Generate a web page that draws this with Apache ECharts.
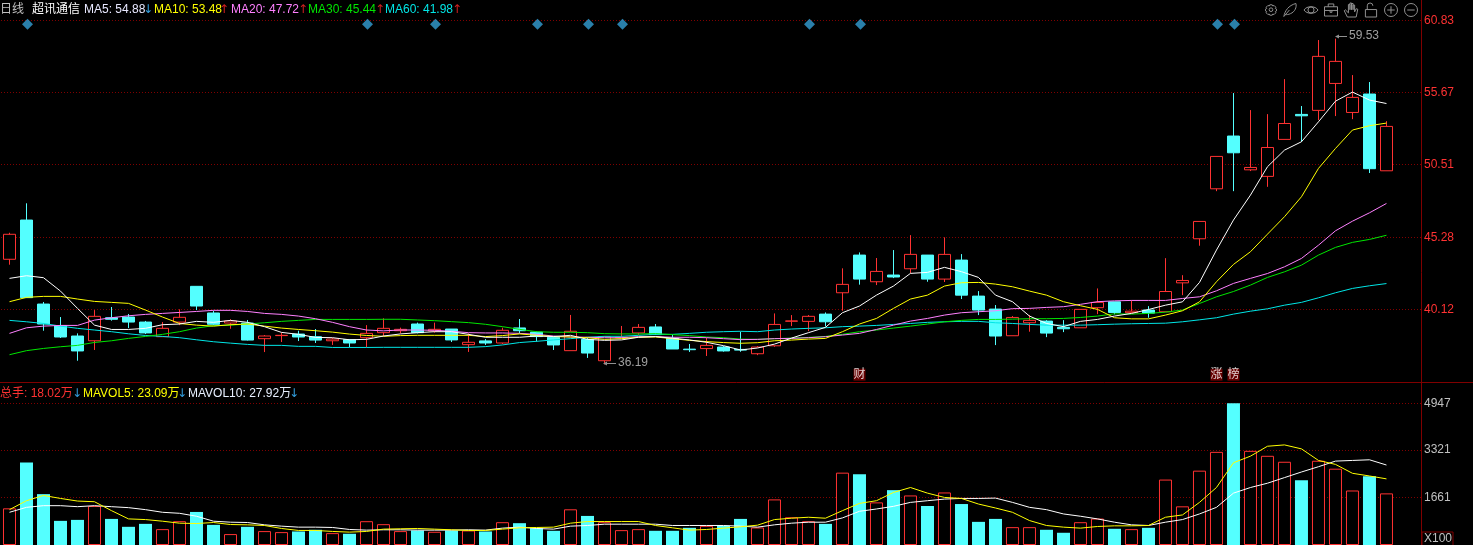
<!DOCTYPE html>
<html>
<head>
<meta charset="utf-8">
<title>超讯通信 日线</title>
<script src="https://cdn.jsdelivr.net/npm/echarts@6/dist/echarts.min.js"></script>
<style>
html, body { margin: 0; padding: 0; background: #000; overflow: hidden; }
#main { width: 1473px; height: 545px; }
</style>
</head>
<body>
<div id="main"></div>
<script>
var opens = [43.72,46.53,40.51,38.96,38.22,37.88,39.53,39.58,39.22,38.17,
  39.22,41.78,39.87,39.15,39.15,38.03,38.25,38.36,38.17,37.88,
  37.96,38.1,38.46,38.6,39.08,38.58,38.72,37.6,37.87,37.72,
  38.8,38.5,38.13,37.17,37.98,36.45,38.1,38.44,38.87,38.06,
  37.28,37.32,37.43,37.26,36.95,37.52,39.28,39.27,39.79,41.32,
  44.02,42.11,42.59,43.04,44.02,42.3,43.66,41.08,40.15,38.24,
  39.17,39.29,38.84,38.81,40.25,40.67,39.89,40.08,39.96,42.03,
  45.19,48.77,52.55,50.13,49.66,52.31,54.1,54.39,56.32,54.24,
  55.56,50.06];
var closes = [45.51,40.97,39.08,38.15,37.15,39.63,39.42,39.22,38.44,38.77,
  39.56,40.37,39.06,39.3,37.93,38.22,38.27,38.15,37.93,38.0,
  37.72,38.41,38.77,38.7,38.46,38.7,37.94,37.77,37.72,38.63,
  38.6,38.18,37.58,38.56,37.0,38.18,38.13,38.84,38.32,37.29,
  37.24,37.55,37.15,37.21,37.43,39.05,39.3,39.63,39.24,41.92,
  42.3,42.85,42.45,44.07,42.3,44.07,41.15,40.08,38.22,39.55,
  39.34,38.43,38.74,40.13,40.63,39.91,40.0,39.86,41.41,42.2,
  46.43,51.09,51.35,50.3,51.73,53.45,54.0,58.26,57.9,55.32,
  50.21,53.24];
var lows = [43.33,40.97,38.6,38.08,36.45,37.22,39.32,38.79,38.36,38.17,
  39.0,40.08,38.99,38.74,37.9,37.07,37.79,37.86,37.72,37.58,
  37.41,37.41,38.22,38.41,38.41,38.46,37.79,37.08,37.58,37.65,
  38.41,37.82,37.22,37.17,36.65,36.19,38.1,38.3,38.3,37.29,
  37.08,36.79,37.1,37.09,36.85,37.45,38.93,38.57,38.9,40.03,
  41.9,41.87,42.37,42.71,42.11,42.09,40.87,39.72,37.57,38.24,
  38.53,38.14,38.5,38.81,39.79,39.77,39.89,39.53,39.96,41.15,
  44.69,48.6,48.6,50.04,48.91,52.31,52.14,53.69,53.98,53.76,
  49.9,50.06];
var highs = [45.62,47.73,40.66,39.58,38.41,40.08,40.3,39.8,39.3,39.22,
  40.13,41.78,40.03,39.42,39.37,38.29,38.46,38.6,38.72,38.08,
  38.0,39.0,39.49,38.82,39.18,39.18,38.72,38.41,38.0,38.82,
  39.44,38.53,38.18,39.73,38.1,38.18,38.94,39.08,39.08,38.3,
  37.65,38.1,37.5,38.53,37.5,39.84,39.72,39.72,39.91,43.07,
  44.21,43.81,44.38,45.45,44.02,45.29,44.09,41.44,40.44,39.65,
  39.72,39.36,39.36,40.13,41.63,40.67,40.77,40.36,43.8,42.58,
  46.43,51.09,55.63,54.41,54.12,56.63,54.7,59.43,59.53,56.92,
  56.42,53.62];

var ma5 = [42.35,42.54,42.4,41.44,40.2,39.0,38.69,38.69,38.77,39.03,
  39.08,39.27,39.2,39.34,39.2,38.89,38.48,38.34,38.12,38.1,
  37.95,37.98,38.22,38.37,38.46,38.53,38.53,38.34,38.13,38.13,
  38.13,38.22,38.18,38.27,37.98,37.91,37.94,38.13,38.18,38.06,
  37.94,37.77,37.53,37.22,37.36,37.64,38.07,38.46,38.84,39.89,
  40.37,41.15,41.8,42.71,42.78,43.14,42.83,42.42,41.15,40.68,
  39.65,39.12,38.89,39.27,39.41,39.65,39.84,40.12,40.43,40.67,
  42.06,44.38,46.53,48.32,50.35,51.54,52.14,53.57,55.05,55.7,
  55.13,54.88];
var ma10 = [40.68,40.99,41.06,41.06,40.87,40.7,40.63,40.56,40.08,39.58,
  39.12,39.0,38.93,39.03,39.08,38.93,38.79,38.69,38.6,38.5,
  38.36,38.26,38.2,38.25,38.27,38.27,38.27,38.27,38.18,38.25,
  38.37,38.27,38.18,38.15,38.1,37.98,38.03,38.13,38.15,38.03,
  37.91,37.82,37.75,37.7,37.74,37.88,37.93,38.0,38.05,38.53,
  39.08,39.48,40.2,40.87,41.15,41.8,42.04,42.06,41.94,41.75,
  41.44,41.15,40.68,40.39,40.13,39.53,39.45,39.45,39.72,40.03,
  40.67,42.11,43.35,44.26,45.52,46.77,48.2,50.23,51.66,52.98,
  53.29,53.48];
var ma20 = [38.41,38.81,38.93,38.98,38.98,39.36,39.53,39.67,39.77,39.84,
  39.91,39.98,40.06,40.06,39.98,39.84,39.77,39.65,39.46,39.2,
  38.89,38.65,38.59,38.65,38.65,38.63,38.56,38.46,38.44,38.44,
  38.41,38.34,38.22,38.15,38.13,38.1,38.1,38.18,38.18,38.13,
  38.13,38.1,38.03,37.96,37.98,38.03,38.05,38.1,38.17,38.29,
  38.41,38.69,39.0,39.29,39.48,39.72,39.89,39.96,40.03,40.18,
  40.2,40.27,40.32,40.49,40.68,40.74,40.77,40.77,40.77,40.91,
  41.03,41.46,41.99,42.35,42.7,43.18,43.78,44.73,45.76,46.45,
  47.05,47.72];
var ma30 = [36.88,37.17,37.33,37.45,37.55,37.76,37.88,38.05,38.19,38.34,
  38.53,38.79,38.96,39.0,39.08,39.17,39.27,39.34,39.41,39.41,
  39.41,39.41,39.42,39.42,39.37,39.32,39.25,39.18,39.06,38.89,
  38.7,38.53,38.49,38.49,38.46,38.39,38.37,38.37,38.39,38.32,
  38.25,38.15,38.1,38.0,37.98,38.03,38.07,38.12,38.19,38.34,
  38.53,38.65,38.79,38.93,39.08,39.24,39.34,39.41,39.41,39.43,
  39.46,39.46,39.48,39.55,39.65,39.81,39.79,39.84,39.93,40.08,
  40.55,41.03,41.41,41.87,42.42,42.82,43.3,44.02,44.57,44.93,
  45.14,45.44];
var ma60 = [39.34,39.24,39.12,38.93,38.77,38.65,38.53,38.38,38.26,38.19,
  38.1,37.95,37.81,37.71,37.62,37.55,37.55,37.48,37.48,37.4,
  37.4,37.4,37.41,37.41,37.41,37.41,37.41,37.41,37.46,37.58,
  37.75,37.84,37.94,38.03,38.13,38.2,38.2,38.27,38.34,38.34,
  38.41,38.49,38.53,38.56,38.53,38.65,38.72,38.77,38.81,38.89,
  38.93,38.98,39.05,39.12,39.2,39.24,39.27,39.27,39.17,39.12,
  39.05,39.0,39.0,39.0,39.03,39.07,39.1,39.12,39.14,39.24,
  39.38,39.53,39.79,40.0,40.17,40.43,40.63,40.96,41.32,41.63,
  41.82,41.98];

var vols = [1280,2883,1776,843,877,1361,911,635,738,554,
  831,1154,704,381,635,485,450,473,531,415,
  392,831,727,485,508,462,508,508,473,796,
  762,589,496,1246,1015,796,519,554,496,496,
  600,669,669,911,612,1592,969,831,738,2526,
  2468,1488,1915,1730,1361,1834,1430,808,911,623,
  623,531,427,796,923,566,554,600,2284,1350,
  2595,3252,4947,3287,3114,2906,2260,2941,2664,1903,
  2399,1802];
var mavol5 = [1234,1546,1730,1626,1534,1511,1200,911,888,831,
  762,750,785,715,704,681,577,508,508,473,
  450,473,554,566,577,554,531,508,508,554,
  600,612,623,762,819,819,819,819,681,600,
  519,542,589,635,692,888,935,969,935,1200,
  1453,1546,1834,2007,1811,1661,1626,1430,1292,1142,
  854,681,623,589,646,669,669,681,969,1050,
  1488,2007,2872,3102,3448,3494,3356,2952,2814,2503,
  2410,2309];
var mavol10 = [1142,1315,1373,1373,1338,1373,1338,1304,1234,1142,
  1107,1004,831,796,785,704,658,623,623,612,
  542,519,531,531,519,519,519,531,519,589,
  623,577,554,658,681,727,727,727,727,681,
  681,681,681,658,623,704,762,796,796,946,
  1177,1257,1350,1488,1546,1603,1626,1626,1638,1488,
  1315,1234,1084,1004,911,796,704,681,796,888,
  1084,1315,1811,2007,2157,2353,2549,2733,2929,2952,
  2975,2792];

var priceTicks = [40.12,45.28,50.51,55.67,60.83];
var volTicks = [1661,3321,4947];
var noticeDays = [1,21,25,31,34,36,47,50,71,72];
var tagDays = [50,71,72];
var tagNames = ['财','涨','榜'];

var RED = '#ff3232', CYAN = '#54ffff', GRID = '#800000';
var FONT = '"Liberation Sans", "Noto Sans CJK SC", sans-serif';

function xy(arr) {
  return arr.map(function (v, i) { return [i, v]; });
}

function maLine(arr, color, gridIdx) {
  return {
    type: 'line', data: xy(arr), xAxisIndex: gridIdx, yAxisIndex: gridIdx,
    showSymbol: false, symbol: 'none', silent: true, z: 5,
    lineStyle: { color: color, width: 1 }
  };
}

function dottedAxis(ticks, min, max, idx, color, fmt) {
  return {
    type: 'value', gridIndex: idx, position: 'right', min: min, max: max, scale: true,
    axisLine: { show: false }, axisTick: { show: false }, splitLine: { show: false },
    axisLabel: { customValues: ticks, color: color, fontFamily: FONT, fontSize: 12, margin: 2, formatter: fmt }
  };
}

// the dotted levels sit on an empty series so they stay behind the bars
function levels(ticks, gridIdx) {
  return {
    type: 'line', data: [], xAxisIndex: gridIdx, yAxisIndex: gridIdx, silent: true, z: 1,
    markLine: {
      silent: true, symbol: 'none', animation: false, z: 1, label: { show: false },
      lineStyle: { color: GRID, width: 1, type: [1, 2] },
      data: ticks.map(function (t) { return { yAxis: t }; })
    }
  };
}

var candles = opens.map(function (o, i) {
  return [i, o, closes[i], lows[i], highs[i]];
});

var volBars = vols.map(function (v, i) {
  var up = closes[i] >= opens[i];
  return {
    value: [i, v],
    itemStyle: up ? { color: '#000', borderColor: RED, borderWidth: 1 } : { color: CYAN, borderWidth: 0 }
  };
});

// header texts: [text, x, y, colour]
var headers = [
  ['日线', 0, 10, '#c0c0c0'], ['超讯通信', 32, 10, '#ffffff'],
  ['MA5: 54.88', 84, 10, '#e8e8ff'], ['↓', 143, 10, '#33a0e0'],
  ['MA10: 53.48', 154, 10, '#ffff00'], ['↑', 219, 10, '#d02020'],
  ['MA20: 47.72', 231, 10, '#ff80ff'], ['↑', 298, 10, '#d02020'],
  ['MA30: 45.44', 308, 10, '#00e600'], ['↑', 375, 10, '#d02020'],
  ['MA60: 41.98', 385, 10, '#00e6e6'], ['↑', 452, 10, '#d02020'],
  ['总手: 18.02万', 0, 394, RED], ['↓', 72, 394, '#33a0e0'],
  ['MAVOL5: 23.09万', 83, 394, '#ffff00'], ['↓', 177, 394, '#33a0e0'],
  ['MAVOL10: 27.92万', 188, 394, '#e8f0ff'], ['↓', 289, 394, '#33a0e0'],
  ['59.53', 1349, 36, '#a0a0a0'], ['36.19', 618, 363, '#a0a0a0']
];

var graphics = headers.map(function (h) {
  var arrow = h[0] === '↓' || h[0] === '↑';
  return {
    type: 'text', x: h[1], y: h[2], silent: true, z: 20,
    style: { text: h[0], fill: h[3], font: (arrow ? '12px "DejaVu Sans"' : '12px ' + FONT), textVerticalAlign: 'middle' }
  };
});

function rule(x1, y1, x2, y2, color) {
  return { type: 'line', silent: true, z: 15, shape: { x1: x1, y1: y1, x2: x2, y2: y2 }, style: { stroke: color, lineWidth: 1 } };
}
graphics.push(rule(1421.5, 0, 1421.5, 545, GRID));
graphics.push(rule(0, 382.5, 1473, 382.5, GRID));
// leader arrows of the high and low labels
graphics.push(rule(1339, 36.5, 1347, 36.5, '#909090'));
graphics.push(rule(607, 363.5, 616, 363.5, '#909090'));
graphics.push({ type: 'polygon', z: 15, silent: true, shape: { points: [[1335, 36.5], [1339, 34.5], [1339, 38.5]] }, style: { fill: '#909090' } });
graphics.push({ type: 'polygon', z: 15, silent: true, shape: { points: [[603, 363.5], [607, 361.5], [607, 365.5]] }, style: { fill: '#909090' } });
// X100 box
graphics.push({ type: 'rect', z: 15, silent: true, shape: { x: 1422, y: 532, width: 31, height: 14 }, style: { fill: '#000', stroke: GRID, lineWidth: 1 } });
graphics.push({ type: 'text', x: 1424, y: 539, z: 16, silent: true, style: { text: 'X100', fill: '#c0c0c0', font: '12px ' + FONT, textVerticalAlign: 'middle' } });

// toolbar icons: centre x, box size, path
var icons = [
  [1271, 11, 'M6 0h4l1 2 2-1 3 3-1 2 2 1v3l-2 1 1 2-3 3-2-1-1 2H6l-1-2-2 1-3-3 1-2-2-1V7l2-1-1-2 3-3 2 1zM8 5a3 3 0 1 0 .01 0z'],
  [1290, 13, 'M1 15C2 9 6 3 14 1c1 4-1 9-6 11-2 1-4 1-5 1M1 15l6-7'],
  [1311, 14, 'M0 8C3 3 13 3 16 8 13 13 3 13 0 8zM8 4.5a3.5 3.5 0 1 0 .01 0z'],
  [1331, 13, 'M1 5h14v10H1zM5 5V2h6v3M1 9h14M7 9v2h2V9'],
  [1351, 14, 'M4 15 1 9l1-1 3 3V3h1.5v5V1.5H8V8V2h1.5v6V3.5H11V10l1.5-3 1.5.5-1.5 7.5z'],
  [1371, 14, 'M2 7h12v8H2zM4 7V3a3 3 0 0 1 6 0'],
  [1391, 13, 'M8 1a7 7 0 1 0 .01 0zM8 4v8M4 8h8'],
  [1411, 13, 'M8 1a7 7 0 1 0 .01 0zM4 8h8']
];

var option = {
  backgroundColor: '#000',
  animation: false,
  grid: [
    { left: 1, width: 1421, top: 20.5, height: 361.5, show: false },
    { left: 1, width: 1421, top: 403.3, height: 143, show: false }
  ],
  xAxis: [
    { type: 'value', gridIndex: 0, min: -0.5, max: 83.09, show: false, splitLine: { show: false } },
    { type: 'value', gridIndex: 1, min: -0.5, max: 83.09, show: false, splitLine: { show: false } }
  ],
  yAxis: [
    dottedAxis(priceTicks, 34.925, 60.83, 0, RED, function (v) { return v.toFixed(2); }),
    dottedAxis(volTicks, 0, 4947, 1, '#c0c0c0', function (v) { return String(Math.round(v)); })
  ],
  graphic: graphics,
  series: [
    levels(priceTicks, 0),
    levels(volTicks, 1),
    {
      type: 'candlestick', data: candles, xAxisIndex: 0, yAxisIndex: 0, barWidth: 12, silent: true, z: 3,
      itemStyle: { color: '#000', color0: CYAN, borderColor: RED, borderColor0: CYAN, borderWidth: 1 }
    },
    maLine(ma60, '#00e6e6', 0),
    maLine(ma30, '#00e600', 0),
    maLine(ma20, '#ff80ff', 0),
    maLine(ma10, '#ffff00', 0),
    maLine(ma5, '#ffffff', 0),
    {
      type: 'scatter', xAxisIndex: 0, yAxisIndex: 0, silent: true, z: 6,
      symbol: 'diamond', symbolSize: 11, symbolOffset: [1, 0], itemStyle: { color: '#349fd4' },
      data: noticeDays.map(function (d) { return [d, 60.56]; })
    },
    {
      type: 'scatter', xAxisIndex: 0, yAxisIndex: 0, silent: true, z: 6,
      symbol: 'rect', symbolSize: 12, itemStyle: { color: GRID },
      label: {
        show: true, position: 'inside', color: '#ffffff', fontSize: 12, fontFamily: FONT,
        formatter: function (p) { return tagNames[p.dataIndex]; }
      },
      data: tagDays.map(function (d) { return [d, 35.45]; })
    },
    {
      type: 'bar', data: volBars, xAxisIndex: 1, yAxisIndex: 1, barWidth: 13, silent: true, z: 3
    },
    maLine(mavol10, '#ffffff', 1),
    maLine(mavol5, '#ffff00', 1),
    {
      type: 'custom', coordinateSystem: 'none', silent: true, z: 20,
      data: icons.map(function (ic, i) { return [i]; }),
      renderItem: function (params) {
        var ic = icons[params.dataIndex];
        return {
          type: 'path',
          shape: { pathData: ic[2], x: ic[0] - ic[1] / 2, y: 10 - ic[1] / 2, width: ic[1], height: ic[1] },
          style: { fill: 'none', stroke: '#909090', lineWidth: 1 }
        };
      }
    }
  ]
};

var mychart = echarts.init(document.getElementById('main'));
mychart.setOption(option);
</script>
</body>
</html>
